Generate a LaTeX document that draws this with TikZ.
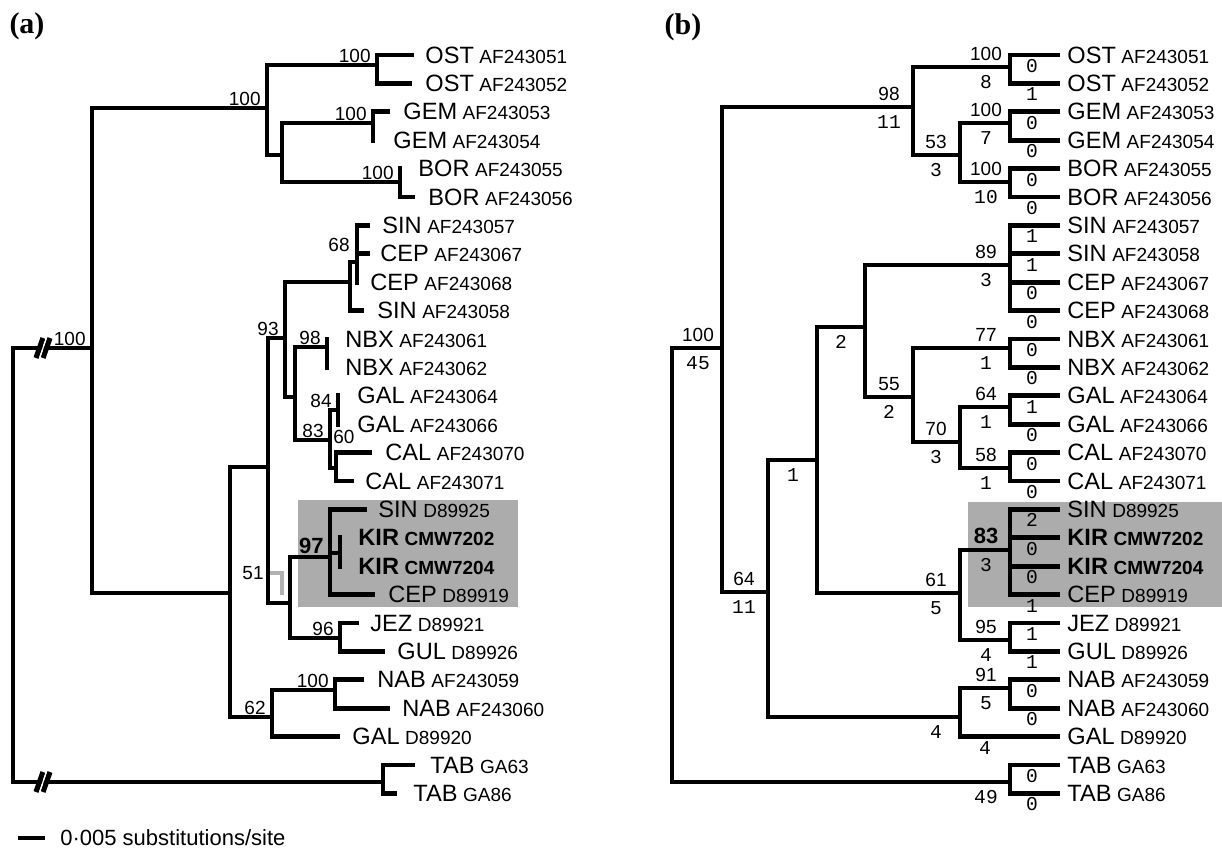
\documentclass[tikz,border=0pt]{standalone}
\usepackage{fontspec}
\setmainfont{Liberation Sans}
\newfontfamily\monofam{Liberation Mono}
\newfontfamily\seriffam{Liberation Serif}
\usetikzlibrary{positioning}
\definecolor{boxgrey}{RGB}{172,172,172}
\definecolor{lightgrey}{RGB}{178,178,178}
\newcommand\taxon[2]{{\fontsize{11.8}{13}\selectfont #1} {\fontsize{9.5}{11}\selectfont #2}}

\begin{document}
\begin{tikzpicture}[x=0.5pt, y=-0.5pt,
        br/.style = {line width=2.4pt, line cap=rect},
        bs/.style = {font=\fontsize{9.5}{10}\selectfont, inner sep=0pt},
        bsa/.style = {bs, anchor=south east, xshift=-3pt, yshift=1.2pt},
        upn/.style = {bs, anchor=south, xshift=-12pt, yshift=3pt},
        dnn/.style = {font=\monofam\fontsize{9.8}{10}\selectfont, inner sep=0pt, anchor=north, xshift=-12pt, yshift=-4pt},
        tipn/.style = {font=\monofam\fontsize{9.8}{10}\selectfont, inner sep=0pt},
        taxa/.style = {anchor=west, inner sep=0pt},
        kb/.style = {font=\bfseries},
        nb/.style = {font=\mdseries},
        panel/.style = {font=\seriffam\bfseries\fontsize{15}{17}\selectfont},
    ]
    \useasboundingbox (0,0) rectangle (1222,850);

    % shaded clades
    \fill[boxgrey] (298,500) rectangle (518,607);
    \fill[boxgrey] (968,502) rectangle (1222,607);

    \node[panel] (pa) at (27,26) {(a)};
    \node[panel] (pb) at (683,27) {(b)};

    % (a) inner nodes
    \coordinate (rootA) at (13,348);
    \coordinate (a1) at (92,348);
    \coordinate (a2) at (267,108);
    \coordinate (ostA) at (377,65);
    \coordinate (a4) at (282,155);
    \coordinate (gemA) at (373,123);
    \coordinate (borA) at (400,182);
    \coordinate (a3) at (230,593);
    \coordinate (a5) at (268,467);
    \coordinate (a7) at (285,338);
    \coordinate (a9) at (350,282);
    \coordinate (n68) at (357,262);
    \coordinate (a10) at (295,397);
    \coordinate (nbxA) at (327,347);
    \coordinate (n83) at (330,440);
    \coordinate (n84) at (338,410);
    \coordinate (n60) at (336,468);
    \coordinate (a8) at (290,603);
    \coordinate (n97) at (330,557);
    \coordinate (kirA) at (340,553);
    \coordinate (n96) at (340,638);
    \coordinate (a6) at (272,717);
    \coordinate (nabA) at (335,690);
    \coordinate (tabA) at (383,782);

    % grey bracket
    \coordinate (g1) at (268,573);
    \coordinate (g2) at (282,595);
    \draw[line width=2.2pt, lightgrey] (g1) -| (g2);
    \node[bs, left=2pt of g1] (s51) {51};

    \foreach \p/\c in {rootA/a1, rootA/tabA, a1/a2, a1/a3, a2/ostA, a2/a4, a4/gemA, a4/borA,
            a3/a5, a3/a6, a5/a7, a5/a8, a7/a9, a7/a10, a9/n68, a10/nbxA, a10/n83,
            n83/n84, n83/n60, a8/n97, a8/n96, n97/kirA, a6/nabA}
        \draw[br] (\p) |- (\c);

    \foreach \i/\p/\tipx/\labx/\nm/\ac/\st in {
            0/ostA/412/425/OST/AF243051/nb, 1/ostA/410/425/OST/AF243052/nb,
            2/gemA/388/403/GEM/AF243053/nb, 3/gemA/373/393/GEM/AF243054/nb,
            4/borA/400/418/BOR/AF243055/nb, 5/borA/413/428/BOR/AF243056/nb,
            6/n68/368/382/SIN/AF243057/nb, 7/n68/368/380/CEP/AF243067/nb,
            8/n68/357/370/CEP/AF243068/nb, 9/a9/362/377/SIN/AF243058/nb,
            10/nbxA/327/345/NBX/AF243061/nb, 11/nbxA/327/345/NBX/AF243062/nb,
            12/n84/338/357/GAL/AF243064/nb, 13/n84/338/357/GAL/AF243066/nb,
            14/n60/370/385/CAL/AF243070/nb, 15/n60/352/365/CAL/AF243071/nb,
            16/n97/365/378/SIN/D89925/nb, 17/kirA/340/358/KIR/CMW7202/kb,
            18/kirA/340/358/KIR/CMW7204/kb, 19/n97/373/388/CEP/D89919/nb,
            20/n96/357/370/JEZ/D89921/nb, 21/n96/383/397/GUL/D89926/nb,
            22/nabA/362/377/NAB/AF243059/nb, 23/nabA/388/402/NAB/AF243060/nb,
            24/a6/338/352/GAL/D89920/nb, 25/tabA/413/430/TAB/GA63/nb,
            26/tabA/395/413/TAB/GA86/nb} {
        \pgfmathsetmacro\yy{55+28.4*\i}
        \coordinate (ta\i) at (\tipx,\yy);
        \draw[br] (\p) |- (ta\i);
        \node[taxa, \st] (la\i) at (\labx,\yy) {\taxon{\nm}{\ac}};
    }

    % bootstrap values (a)
    \foreach \n/\v in {a1/100, a2/100, ostA/100, gemA/100, borA/100, a7/93, nbxA/98,
            n84/84, n83/83, n96/96, a6/62, nabA/100}
        \node[bsa] (s\n) at (\n) {\v};
    \node[bsa, font=\bfseries\fontsize{11}{12}\selectfont] (sn97) at (n97) {97};
    \node[bs, anchor=south east] (s68) at ([shift={(-7,-10)}]n68) {68};
    \node[bs, anchor=south west] (s60) at ([shift={(-3,-24)}]n60) {60};

    % cut root branches
    \coordinate (brkA) at (44,348);
    \coordinate (brkB) at (44,782);
    \foreach \c in {brkA, brkB} {
        \draw[line width=2.6pt] ([shift={(-8,10)}]\c) -- ([shift={(-1,-10)}]\c);
        \draw[line width=2.6pt] ([shift={(-1,10)}]\c) -- ([shift={(6,-10)}]\c);
        \draw[white, line width=0.6pt] ([shift={(-4.5,11)}]\c) -- ([shift={(2.5,-11)}]\c);
    }

    % scale bar
    \coordinate (sb0) at (18,838);
    \coordinate (sb1) at (45,838);
    \draw[line width=2.4pt] (sb0) -- (sb1);
    \node[anchor=west, inner sep=0pt, font=\fontsize{11}{13}\selectfont] (sbl) at (60,838) {0·005 substitutions/site};

    % (b) inner nodes
    \coordinate (rootB) at (672,348);
    \coordinate (b1) at (722,348);
    \coordinate (b2) at (913,107);
    \coordinate (ostB) at (1010,67);
    \coordinate (b4) at (960,155);
    \coordinate (gemB) at (1010,123);
    \coordinate (borB) at (1010,182);
    \coordinate (b3) at (768,592);
    \coordinate (b5) at (817,460);
    \coordinate (b7) at (865,327);
    \coordinate (sinB) at (1010,265);
    \coordinate (b9) at (913,397);
    \coordinate (nbxB) at (1010,348);
    \coordinate (b10) at (960,442);
    \coordinate (galB) at (1010,407);
    \coordinate (calB) at (1010,468);
    \coordinate (b8) at (960,593);
    \coordinate (kirB) at (1010,550);
    \coordinate (jezB) at (1010,640);
    \coordinate (b6) at (960,717);
    \coordinate (nabB) at (1010,688);
    \coordinate (tabB) at (1010,782);

    \foreach \p/\c in {rootB/b1, rootB/tabB, b1/b2, b1/b3, b2/ostB, b2/b4, b4/gemB, b4/borB,
            b3/b5, b3/b6, b5/b7, b5/b8, b7/sinB, b7/b9, b9/nbxB, b9/b10, b10/galB, b10/calB,
            b8/kirB, b8/jezB, b6/nabB}
        \draw[br] (\p) |- (\c);

    \foreach \i/\p/\nm/\ac/\st/\cx/\ch in {
            0/ostB/OST/AF243051/nb/1032/0, 1/ostB/OST/AF243052/nb/1032/1,
            2/gemB/GEM/AF243053/nb/1032/0, 3/gemB/GEM/AF243054/nb/1032/0,
            4/borB/BOR/AF243055/nb/1032/0, 5/borB/BOR/AF243056/nb/1032/0,
            6/sinB/SIN/AF243057/nb/1032/1, 7/sinB/SIN/AF243058/nb/1032/1,
            8/sinB/CEP/AF243067/nb/1032/0, 9/sinB/CEP/AF243068/nb/1032/0,
            10/nbxB/NBX/AF243061/nb/1032/0, 11/nbxB/NBX/AF243062/nb/1032/0,
            12/galB/GAL/AF243064/nb/1032/1, 13/galB/GAL/AF243066/nb/1032/0,
            14/calB/CAL/AF243070/nb/1032/0, 15/calB/CAL/AF243071/nb/1032/0,
            16/kirB/SIN/D89925/nb/1032/2, 17/kirB/KIR/CMW7202/kb/1032/0,
            18/kirB/KIR/CMW7204/kb/1032/0, 19/kirB/CEP/D89919/nb/1032/1,
            20/jezB/JEZ/D89921/nb/1032/1, 21/jezB/GUL/D89926/nb/1032/1,
            22/nabB/NAB/AF243059/nb/1032/0, 23/nabB/NAB/AF243060/nb/1032/0,
            24/b6/GAL/D89920/nb/985/4, 25/tabB/TAB/GA63/nb/1032/0,
            26/tabB/TAB/GA86/nb/1032/0} {
        \pgfmathsetmacro\yy{55+28.4*\i}
        \coordinate (tb\i) at (1058,\yy);
        \draw[br] (\p) |- (tb\i);
        \node[taxa, \st] (lb\i) at (1067,\yy) {\taxon{\nm}{\ac}};
        \node[tipn] (cb\i) at (\cx,\yy+11) {\ch};
    }

    % bootstrap values and branch lengths (b)
    \foreach \n/\u/\d in {b1/100/45, b2/98/11, ostB/100/8, b4/53/3, gemB/100/7, borB/100/10,
            b3/64/11, sinB/89/3, b9/55/2, nbxB/77/1, b10/70/3, galB/64/1, calB/58/1,
            b8/61/5, jezB/95/4, nabB/91/5} {
        \node[upn] (u\n) at (\n) {\u};
        \node[dnn] (d\n) at (\n) {\d};
    }
    \node[upn, font=\bfseries\fontsize{11}{12}\selectfont] (ukirB) at (kirB) {83};
    \foreach \n/\d in {kirB/3, b5/1, b7/2, b6/4, tabB/49}
        \node[dnn] (d\n) at (\n) {\d};
\end{tikzpicture}
\end{document}
